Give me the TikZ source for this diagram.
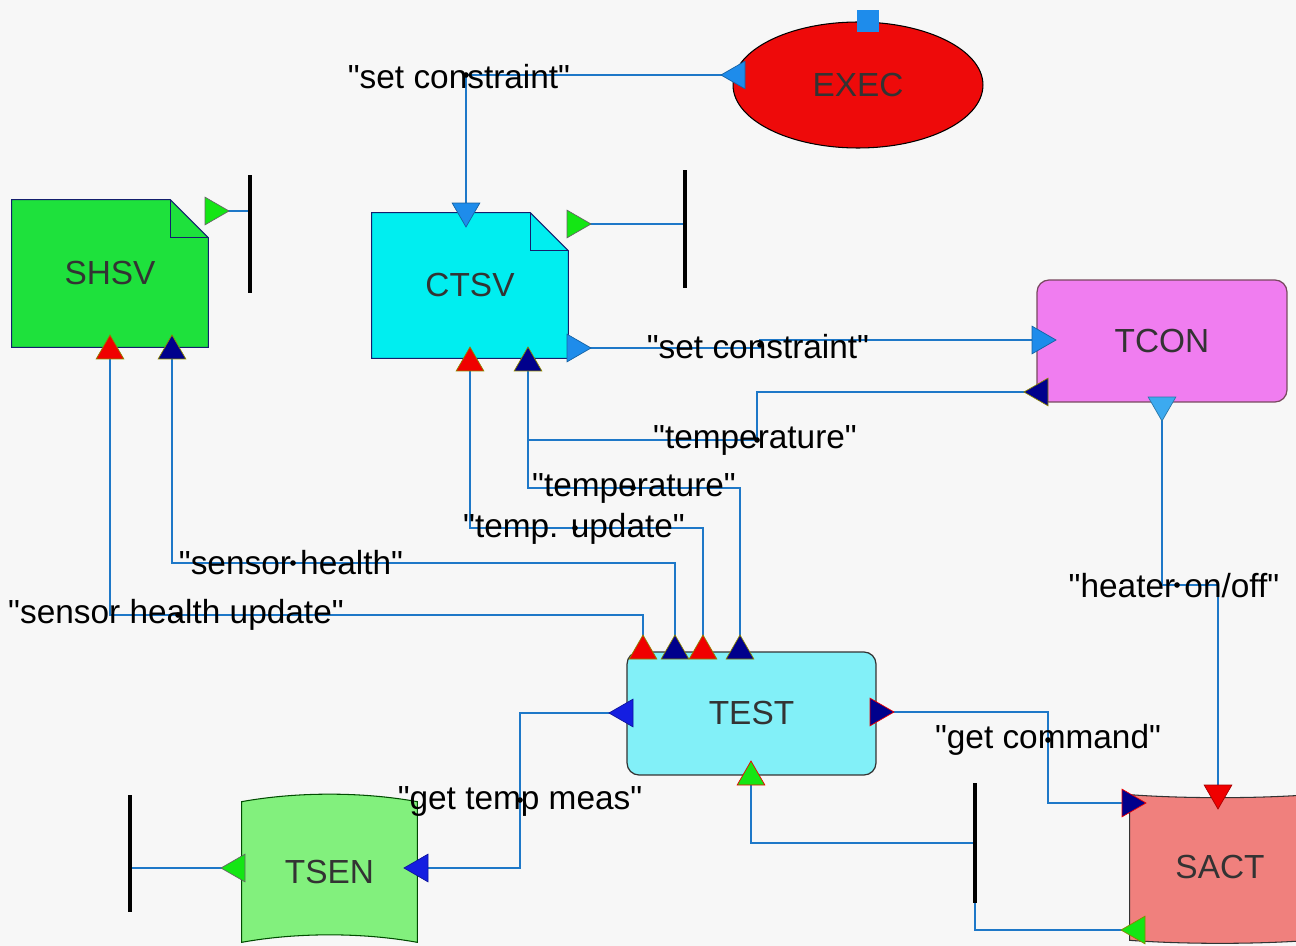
\documentclass[tikz,border=0pt]{standalone}
\usepackage{fontspec}
\setmainfont{Liberation Sans}[Ligatures=TeXOff]
\usetikzlibrary{shapes.geometric,backgrounds}
\definecolor{bgcol}{RGB}{247,247,247}
\definecolor{wirecol}{RGB}{30,120,200}
\definecolor{execred}{RGB}{238,10,10}
\definecolor{shsvgreen}{RGB}{30,225,60}
\definecolor{ctsvcyan}{RGB}{0,238,240}
\definecolor{tconpink}{RGB}{240,125,240}
\definecolor{testcyan}{RGB}{130,240,248}
\definecolor{tsengreen}{RGB}{130,240,125}
\definecolor{sactred}{RGB}{240,128,125}
\definecolor{portblue}{RGB}{30,140,235}
\definecolor{portlight}{RGB}{60,170,240}
\definecolor{portnavy}{RGB}{0,0,140}
\definecolor{portroyal}{RGB}{20,30,225}
\definecolor{portred}{RGB}{240,0,0}
\definecolor{portgreen}{RGB}{20,230,20}
\definecolor{edgenavy}{RGB}{20,30,110}
\pgfdeclarelayer{wires}
\pgfsetlayers{background,wires,main}

\begin{document}
\begin{tikzpicture}[x=0.02cm, y=-0.02cm,
  every node/.style={font=\fontsize{19}{22}\selectfont},
  wire/.style={draw=wirecol, line width=0.9pt},
  port/.style={regular polygon, regular polygon sides=3, minimum size=0.64cm, inner sep=0pt, line width=0.4pt},
  pup/.style={shape border rotate=0},
  pdown/.style={shape border rotate=180},
  pleft/.style={shape border rotate=90},
  pright/.style={shape border rotate=270},
  bar/.style={fill=black, inner sep=0pt, minimum width=0.07cm},
  lbl/.style={inner sep=0pt, text=black},
  blk/.style={inner sep=0pt, text=black!80}]
  \useasboundingbox (0,0) rectangle (1296,946);
  \begin{scope}[on background layer]
    \fill[bgcol] (0,0) rectangle (1296,946);
  \end{scope}

  % blocks
  \node[ellipse, draw=black, line width=0.6pt, fill=execred, minimum width=5cm, minimum height=2.52cm, blk] (exec) at (858,85) {EXEC};
  \node[fill=portblue, minimum size=0.44cm, inner sep=0pt] (execsq) at (868,21) {};
  \node[blk, minimum width=3.92cm, minimum height=2.94cm] (shsv) at (110,273.5) {SHSV};
  \node[blk, minimum width=3.92cm, minimum height=2.9cm] (ctsv) at (470,285.5) {CTSV};
  \node[blk, rounded corners=0.24cm, draw=black!60!magenta, line width=0.7pt, fill=tconpink, minimum width=5cm, minimum height=2.44cm] (tcon) at (1162,341) {TCON};
  \node[blk, rounded corners=0.24cm, draw=black!80, line width=0.7pt, fill=testcyan, minimum width=4.98cm, minimum height=2.46cm] (test) at (751.5,713.5) {TEST};
  \node[blk, minimum width=3.5cm, minimum height=2.8cm] (tsen) at (329.5,872) {TSEN};
  \node[blk, minimum width=3.6cm, minimum height=2.9cm] (sact) at (1220,867.5) {SACT};

  \begin{scope}[on background layer]
    \filldraw[fill=shsvgreen, draw=edgenavy, line width=0.6pt] (shsv.south west) -- (shsv.north west) -- ([xshift=-0.76cm]shsv.north east) -- ([yshift=-0.76cm]shsv.north east) -- (shsv.south east) -- cycle;
    \draw[edgenavy, line width=0.6pt] ([xshift=-0.76cm]shsv.north east) |- ([yshift=-0.76cm]shsv.north east);
    \filldraw[fill=ctsvcyan, draw=edgenavy, line width=0.6pt] (ctsv.south west) -- (ctsv.north west) -- ([xshift=-0.76cm]ctsv.north east) -- ([yshift=-0.76cm]ctsv.north east) -- (ctsv.south east) -- cycle;
    \draw[edgenavy, line width=0.6pt] ([xshift=-0.76cm]ctsv.north east) |- ([yshift=-0.76cm]ctsv.north east);
    \filldraw[fill=tsengreen, draw=black!70!green, line width=0.6pt] (tsen.south west) -- (tsen.north west)
      .. controls ([xshift=1.1cm, yshift=0.2cm]tsen.north west) and ([xshift=-1.1cm, yshift=0.2cm]tsen.north east) .. (tsen.north east)
      -- (tsen.south east)
      .. controls ([xshift=-1.1cm, yshift=0.2cm]tsen.south east) and ([xshift=1.1cm, yshift=0.2cm]tsen.south west) .. (tsen.south west) -- cycle;
    \filldraw[fill=sactred, draw=black!80, line width=0.6pt] (sact.south west) -- (sact.north west)
      .. controls ([xshift=1.1cm, yshift=-0.08cm]sact.north west) and ([xshift=-1.1cm, yshift=-0.08cm]sact.north east) .. (sact.north east)
      -- (sact.south east)
      .. controls ([xshift=-1.1cm, yshift=-0.08cm]sact.south east) and ([xshift=1.1cm, yshift=-0.08cm]sact.south west) .. (sact.south west) -- cycle;
  \end{scope}

  % ports
  \node[port, pleft, fill=portblue, draw=portblue!70!black] (execL) at (737,75) {};
  \node[port, pdown, fill=portblue, draw=portblue!70!black] (ctsvT) at (466,211) {};
  \node[port, pright, fill=portgreen, draw=black!60] (shsvF) at (213,211) {};
  \node[port, pright, fill=portgreen, draw=black!60] (ctsvF) at (575,224) {};
  \node[port, pup, fill=portred, draw=olive] (ctsvB1) at (470,363) {};
  \node[port, pup, fill=portnavy, draw=olive] (ctsvB2) at (528,363) {};
  \node[port, pright, fill=portblue, draw=portblue!70!black] (ctsvR) at (575,348) {};
  \node[port, pright, fill=portblue, draw=portblue!70!black] (tconL) at (1040,340) {};
  \node[port, pleft, fill=portnavy, draw=olive] (tconLL) at (1040,392) {};
  \node[port, pdown, fill=portlight, draw=portlight!70!black] (tconB) at (1162,405) {};
  \node[port, pup, fill=portred, draw=olive] (shsvB1) at (110,351) {};
  \node[port, pup, fill=portnavy, draw=olive] (shsvB2) at (172,351) {};
  \foreach \x/\c [count=\i] in {643/portred,675/portnavy,703/portred,740/portnavy}
    \node[port, pup, fill=\c, draw=olive] (testT\i) at (\x,651) {};
  \node[port, pleft, fill=portroyal, draw=portroyal!70!black] (testL) at (625,713) {};
  \node[port, pright, fill=portnavy, draw=portred] (testR) at (878,712) {};
  \node[port, pup, fill=portgreen, draw=portred] (testB) at (751,777) {};
  \node[port, pleft, fill=portgreen, draw=black!60] (tsenL) at (237,868) {};
  \node[port, pleft, fill=portroyal, draw=portroyal!70!black] (tsenR) at (420,868) {};
  \node[port, pdown, fill=portred, draw=portred!70!black] (sactT) at (1218,793) {};
  \node[port, pright, fill=portnavy, draw=portred] (sactL) at (1130,803) {};
  \node[port, pleft, fill=portgreen, draw=olive] (sactBL) at (1137,930) {};

  % terminators
  \node[bar, minimum height=2.36cm] (barA) at (250,234) {};
  \node[bar, minimum height=2.36cm] (barB) at (685,229) {};
  \node[bar, minimum height=2.34cm] (barC) at (130,853.5) {};
  \node[bar, minimum height=2.4cm] (barD) at (975,843) {};

  % label points
  \coordinate (dSet) at (466,75);
  \coordinate (dCon) at (760,345);
  \coordinate (dTmpA) at (757,440);
  \coordinate (dTmpB) at (633,488);
  \coordinate (dUpd) at (575,528);
  \coordinate (dHl) at (293,563);
  \coordinate (dHlU) at (178,615);
  \coordinate (dHeat) at (1177,585);
  \coordinate (dCmd) at (1048,740);
  \coordinate (dMeas) at (520,800);

  \begin{pgfonlayer}{wires}
    \draw[wire] (execL.center) -- (dSet) -- (ctsvT.center);
    \draw[wire] (shsvF.center) -- (shsvF.center -| barA.center);
    \draw[wire] (ctsvF.center) -- (ctsvF.center -| barB.center);
    \draw[wire] (ctsvR.center) -| (dCon) |- (tconL.center);
    \draw[wire] (tconLL.center) -| (dTmpA) -- (dTmpA -| ctsvB2.center);
    \draw[wire] (ctsvB2.center) |- (dTmpB) -| (testT4.center);
    \draw[wire] (ctsvB1.center) |- (dUpd) -| (testT3.center);
    \draw[wire] (shsvB2.center) |- (dHl) -| (testT2.center);
    \draw[wire] (shsvB1.center) |- (dHlU) -| (testT1.center);
    \draw[wire] (tconB.center) |- (dHeat) -| (sactT.center);
    \draw[wire] (testR.center) -| (dCmd) |- (sactL.center);
    \draw[wire] (testL.center) -| (dMeas) |- (tsenR.center);
    \draw[wire] (tsenL.center) -- (tsenL.center -| barC.center);
    \draw[wire] (testB.center) |- (barD.center);
    \draw[wire] (barD.south) |- (sactBL.center);
  \end{pgfonlayer}

  \foreach \d in {dSet,dCon,dTmpA,dTmpB,dUpd,dHl,dHlU,dHeat,dCmd,dMeas}
    \fill (\d) circle[radius=1.6pt];

  % labels
  \node[lbl] (lSet) at (459,77) {"set constraint"};
  \node[lbl] (lCon) at (758,347) {"set constraint"};
  \node[lbl] (lTmpA) at (755,440) {"temperature"};
  \node[lbl] (lTmpB) at (634,488) {"temperature"};
  \node[lbl] (lUpd) at (574,529) {"temp. update"};
  \node[lbl] (lHl) at (291,563) {"sensor health"};
  \node[lbl] (lHlU) at (176,615) {"sensor health update"};
  \node[lbl] (lHeat) at (1174,586) {"heater on/off"};
  \node[lbl] (lCmd) at (1048,740) {"get command"};
  \node[lbl] (lMeas) at (520,801) {"get temp meas"};
\end{tikzpicture}
\end{document}
